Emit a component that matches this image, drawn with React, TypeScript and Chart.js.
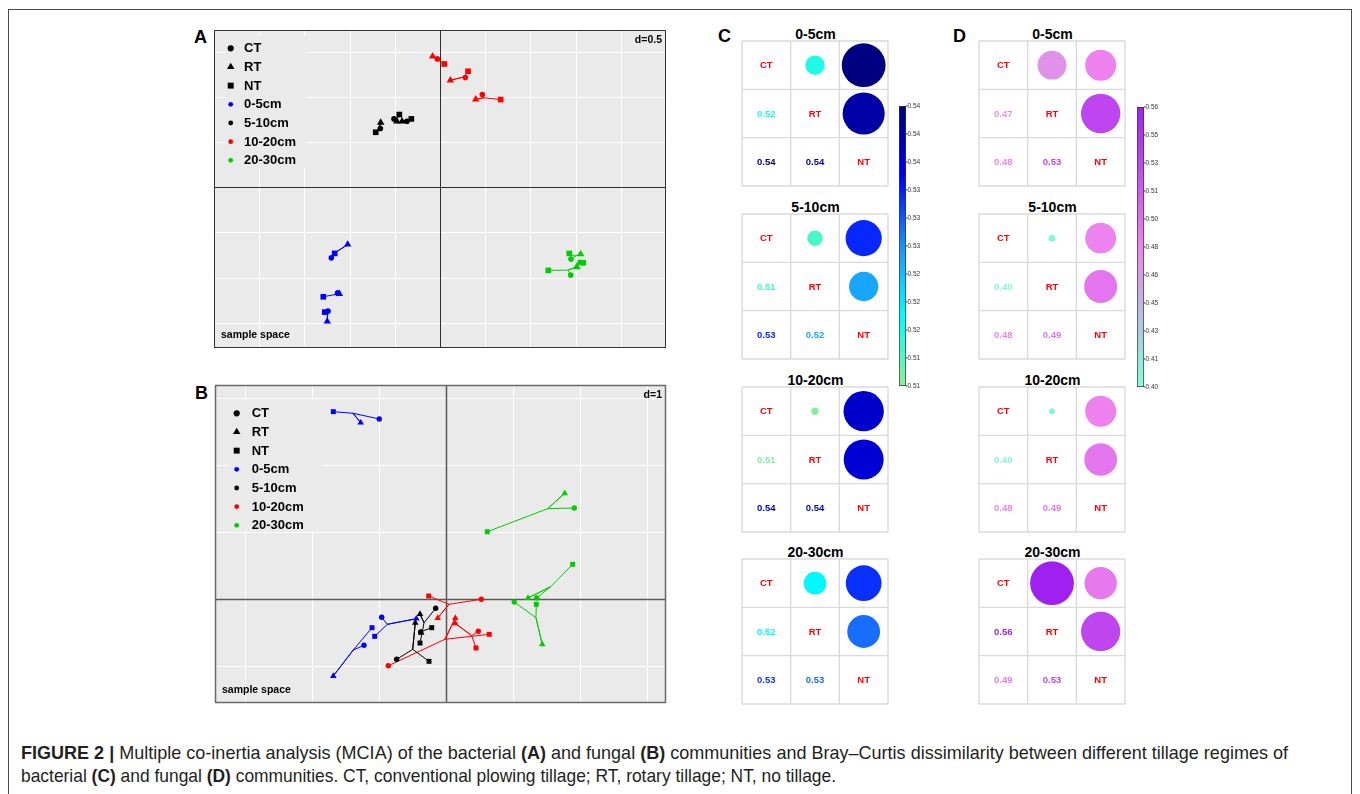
import React, { useEffect, useLayoutEffect, useRef } from 'react';
import { Chart, registerables } from 'chart.js';

Chart.register(...registerables);

const FONT = "'Liberation Sans', Arial, Helvetica, sans-serif";
const PANEL_BG = '#EAEAEA';

// ---------- categories ----------
const TREATMENTS = ['CT', 'RT', 'NT'];
const TREATMENT_SHAPES = ['circle', 'triangle', 'rect'];
const DEPTHS = ['0-5cm', '5-10cm', '10-20cm', '20-30cm'];
const DEPTH_COLORS = ['#0000FF', '#000000', '#FF0000', '#00CD00'];

// ---------- MCIA stars: [centerX, centerY, CTx, CTy, RTx, RTy, NTx, NTy] ----------
// Panel A (bacterial), d = 0.5
const A_0_5 = [
  [-1.150, -0.719, -1.202, -0.782, -1.021, -0.634, -1.165, -0.733],
  [-1.170, -1.190, -1.132, -1.169, -1.114, -1.180, -1.291, -1.213],
  [-1.247, -1.397, -1.239, -1.372, -1.247, -1.486, -1.275, -1.383],
];
const A_5_10 = [
  [-0.675, 0.653, -0.660, 0.649, -0.656, 0.716, -0.711, 0.608],
  [-0.476, 0.752, -0.509, 0.756, -0.476, 0.730, -0.450, 0.804],
  [-0.376, 0.741, -0.365, 0.730, -0.420, 0.730, -0.317, 0.756],
];
const A_10_20 = [
  [-0.022, 1.410, -0.030, 1.420, -0.081, 1.449, 0.048, 1.364],
  [0.265, 1.220, 0.280, 1.213, 0.114, 1.184, 0.310, 1.283],
  [0.487, 0.990, 0.468, 1.025, 0.395, 0.973, 0.671, 0.970],
];
const A_20_30 = [
  [1.493, -0.763, 1.449, -0.796, 1.556, -0.741, 1.430, -0.733],
  [1.538, -0.852, 1.549, -0.830, 1.515, -0.885, 1.585, -0.837],
  [1.416, -0.918, 1.446, -0.973, 1.512, -0.882, 1.198, -0.921],
];

// Panel B (fungal), d = 1
const B_0_5 = [
  [-1.388, 2.772, -0.996, 2.687, -1.273, 2.631, -1.682, 2.796],
  [-0.876, -0.378, -0.960, -0.273, -0.443, -0.294, -1.064, -0.557],
  [-1.384, -0.761, -1.224, -0.691, -1.682, -1.149, -1.104, -0.428],
];
const B_5_10 = [
  [-0.328, -0.354, -0.154, -0.139, -0.388, -0.224, -0.388, -0.657],
  [-0.355, -0.480, -0.378, -0.493, -0.370, -0.505, -0.213, -0.428],
  [-0.497, -0.751, -0.736, -0.900, -0.458, -0.354, -0.254, -0.930],
];
const B_10_20 = [
  [0.045, -0.079, 0.527, -0.004, -0.124, -0.284, -0.258, 0.045],
  [0.384, -0.548, 0.482, -0.482, 0.139, -0.363, 0.448, -0.731],
  [-0.015, -0.601, -0.861, -0.996, 0.139, -0.284, 0.646, -0.527],
];
const B_20_30 = [
  [1.518, 1.348, 1.915, 1.358, 1.772, 1.578, 0.616, 1.004],
  [1.563, 0.184, 1.354, 0.015, 1.224, 0.015, 1.891, 0.518],
  [1.343, -0.279, 1.019, -0.045, 1.437, -0.676, 1.348, -0.079],
];

// ---------- Bray-Curtis dissimilarity, per depth ----------
const C_CT_RT = [0.516, 0.5136, 0.5104, 0.5183];
const C_CT_NT = [0.5425, 0.532, 0.5375, 0.5315];
const C_RT_NT = [0.540, 0.5243, 0.537, 0.528];
const D_CT_RT = [0.471, 0.404, 0.403, 0.563];
const D_CT_NT = [0.482, 0.481, 0.482, 0.489];
const D_RT_NT = [0.532, 0.492, 0.491, 0.531];

// colour bar ranges and tick labels (top to bottom)
const C_RANGE = [0.5095, 0.5425];
const D_RANGE = [0.400, 0.563];
const C_BAR_LABELS = ['0.54', '0.54', '0.54', '0.53', '0.53', '0.53', '0.52', '0.52', '0.52', '0.51', '0.51'];
const D_BAR_LABELS = ['0.56', '0.55', '0.53', '0.51', '0.50', '0.48', '0.46', '0.45', '0.43', '0.41', '0.40'];
const C_STOPS: [number, string][] = [[0, '#90EE90'], [0.25, '#00FFFF'], [0.5, '#1E90FF'], [0.75, '#0000FF'], [1, '#000080']];
const D_STOPS: [number, string][] = [[0, '#7FFFD4'], [0.5, '#EE82EE'], [1, '#A020F0']];

// ---------- helpers ----------
function hexToRgb(h: string) {
  const n = parseInt(h.slice(1), 16);
  return [(n >> 16) & 255, (n >> 8) & 255, n & 255];
}
function colorAt(stops: [number, string][], t: number) {
  const tt = Math.max(0, Math.min(1, t));
  for (let i = 1; i < stops.length; i++) {
    if (tt <= stops[i][0]) {
      const [t0, c0] = stops[i - 1];
      const [t1, c1] = stops[i];
      const f = (tt - t0) / (t1 - t0);
      const a = hexToRgb(c0), b = hexToRgb(c1);
      return `rgb(${Math.round(a[0] + (b[0] - a[0]) * f)},${Math.round(a[1] + (b[1] - a[1]) * f)},${Math.round(a[2] + (b[2] - a[2]) * f)})`;
    }
  }
  return stops[stops.length - 1][1];
}

function drawShape(ctx: CanvasRenderingContext2D, shape: string, x: number, y: number, r: number) {
  ctx.beginPath();
  if (shape === 'circle') ctx.arc(x, y, r, 0, Math.PI * 2);
  else if (shape === 'triangle') {
    ctx.moveTo(x, y - r);
    ctx.lineTo(x + r * 0.866, y + r * 0.5);
    ctx.lineTo(x - r * 0.866, y + r * 0.5);
    ctx.closePath();
  } else {
    const s = r * Math.SQRT1_2;
    ctx.rect(x - s, y - s, 2 * s, 2 * s);
  }
  ctx.fill();
}

// ---------- scatter panels ----------
type PanelCfg = {
  stars: number[][][];
  xRange: [number, number];
  yRange: [number, number];
  step: number;
  crossColor: string;
  crossWidth: number;
  borderColor: string;
  borderWidth: number;
  radii: number[];
  legendBox: [number, number, number, number];
  symX: number;
  textX: number;
  rowY0: number;
  rowDy: number;
  dLabel: string;
};

function panelPlugin(cfg: PanelCfg) {
  return {
    id: 'panelDecor',
    beforeDatasetsDraw(chart: any) {
      const { ctx, chartArea: a } = chart;
      const xs = chart.scales.x, ys = chart.scales.y;
      ctx.save();
      ctx.fillStyle = PANEL_BG;
      ctx.fillRect(a.left, a.top, a.width, a.height);
      ctx.strokeStyle = '#FFFFFF';
      ctx.lineWidth = 1;
      ctx.beginPath();
      for (let k = Math.ceil(xs.min / cfg.step); k * cfg.step <= xs.max; k++) {
        if (k === 0) continue;
        const px = Math.round(xs.getPixelForValue(k * cfg.step)) + 0.5;
        ctx.moveTo(px, a.top);
        ctx.lineTo(px, a.bottom);
      }
      for (let k = Math.ceil(ys.min / cfg.step); k * cfg.step <= ys.max; k++) {
        if (k === 0) continue;
        const py = Math.round(ys.getPixelForValue(k * cfg.step)) + 0.5;
        ctx.moveTo(a.left, py);
        ctx.lineTo(a.right, py);
      }
      ctx.stroke();
      const [bx, by, bw, bh] = cfg.legendBox;
      ctx.fillStyle = PANEL_BG;
      ctx.fillRect(a.left + bx, a.top + by, bw, bh);
      ctx.strokeStyle = cfg.crossColor;
      ctx.lineWidth = cfg.crossWidth;
      const x0 = Math.round(xs.getPixelForValue(0)) + 0.5;
      const y0 = Math.round(ys.getPixelForValue(0)) + 0.5;
      ctx.beginPath();
      ctx.moveTo(x0, a.top);
      ctx.lineTo(x0, a.bottom);
      ctx.moveTo(a.left, y0);
      ctx.lineTo(a.right, y0);
      ctx.stroke();
      ctx.restore();
    },
    afterDatasetsDraw(chart: any) {
      const { ctx, chartArea: a } = chart;
      ctx.save();
      const entries = [
        ...TREATMENTS.map((t, i) => ({ label: t, shape: TREATMENT_SHAPES[i], color: '#000000', r: [3.1, 4.3, 4.2][i] })),
        ...DEPTHS.map((d, i) => ({ label: d, shape: 'circle', color: DEPTH_COLORS[i], r: 2.4 })),
      ];
      ctx.font = `bold 13px ${FONT}`;
      ctx.textBaseline = 'middle';
      ctx.textAlign = 'left';
      entries.forEach((e, i) => {
        const y = a.top + cfg.rowY0 + i * cfg.rowDy;
        ctx.fillStyle = e.color;
        drawShape(ctx, e.shape, a.left + cfg.symX, y, e.r);
        ctx.fillStyle = '#000000';
        ctx.fillText(e.label, a.left + cfg.textX, y + 0.5);
      });
      ctx.font = `bold 10.5px ${FONT}`;
      ctx.textAlign = 'right';
      ctx.fillText(cfg.dLabel, a.right - 4, a.top + 10);
      ctx.textAlign = 'left';
      ctx.fillText('sample space', a.left + 7, a.bottom - 13);
      ctx.strokeStyle = cfg.borderColor;
      ctx.lineWidth = cfg.borderWidth;
      ctx.strokeRect(a.left + 0.5, a.top + 0.5, a.width - 1, a.height - 1);
      ctx.restore();
    },
  };
}

function makeScatterConfig(cfg: PanelCfg) {
  const lineSets: any[] = [];
  const pointSets: any[] = [];
  cfg.stars.forEach((rows, d) => {
    rows.forEach((row) => {
      const c = { x: row[0], y: row[1] };
      const pts = TREATMENTS.map((_, k) => ({ x: row[2 + 2 * k], y: row[3 + 2 * k] }));
      lineSets.push({
        data: [pts[0], c, pts[1], c, pts[2]],
        showLine: true,
        borderColor: DEPTH_COLORS[d],
        borderWidth: 1,
        pointRadius: 0,
        order: 1,
      });
      pointSets.push({
        data: pts,
        showLine: false,
        pointStyle: TREATMENT_SHAPES,
        pointRadius: cfg.radii,
        backgroundColor: DEPTH_COLORS[d],
        borderWidth: 0,
        order: 0,
      });
    });
  });
  return {
    type: 'scatter',
    data: { datasets: [...pointSets, ...lineSets] },
    options: {
      responsive: false,
      animation: false,
      events: [],
      layout: { padding: 10, autoPadding: false },
      scales: {
        x: { type: 'linear', min: cfg.xRange[0], max: cfg.xRange[1], display: false },
        y: { type: 'linear', min: cfg.yRange[0], max: cfg.yRange[1], display: false },
      },
      plugins: { legend: { display: false }, tooltip: { enabled: false } },
    },
    plugins: [panelPlugin(cfg)],
  };
}

const PANEL_A: PanelCfg = {
  stars: [A_0_5, A_5_10, A_10_20, A_20_30],
  xRange: [-2.5, 2.5],
  yRange: [-1.78, 1.74],
  step: 0.5,
  crossColor: '#2E2E2E',
  crossWidth: 1,
  borderColor: '#333333',
  borderWidth: 1,
  radii: [2.8, 4.3, 4.0],
  legendBox: [12, 6, 80, 132],
  symX: 16.7,
  textX: 30,
  rowY0: 18.3,
  rowDy: 18.67,
  dLabel: 'd=0.5',
};

const PANEL_B: PanelCfg = {
  stars: [B_0_5, B_5_10, B_10_20, B_20_30],
  xRange: [-3.448, 3.284],
  yRange: [-1.552, 3.194],
  step: 1,
  crossColor: '#5A5A5A',
  crossWidth: 1.5,
  borderColor: '#6A6A6A',
  borderWidth: 1.5,
  radii: [2.7, 3.8, 3.5],
  legendBox: [13, 15, 94, 131],
  symX: 21.7,
  textX: 36.7,
  rowY0: 28.3,
  rowDy: 18.67,
  dLabel: 'd=1',
};

// ---------- matrices ----------
const CELL = 146 / 3;
const PAIRS = [[0, 1], [0, 2], [1, 2]];

function matrixPlugin(stops: [number, string][], range: number[], vals: number[]) {
  return {
    id: 'matrixDecor',
    beforeDatasetsDraw(chart: any) {
      const { ctx } = chart;
      const xs = chart.scales.x, ys = chart.scales.y;
      ctx.save();
      ctx.strokeStyle = '#DADADA';
      ctx.lineWidth = 1.4;
      ctx.beginPath();
      for (let i = 0; i <= 3; i++) {
        const px = xs.getPixelForValue(i);
        const py = ys.getPixelForValue(i);
        ctx.moveTo(px, ys.getPixelForValue(0));
        ctx.lineTo(px, ys.getPixelForValue(3));
        ctx.moveTo(xs.getPixelForValue(0), py);
        ctx.lineTo(xs.getPixelForValue(3), py);
      }
      ctx.stroke();
      ctx.font = `bold 9.5px ${FONT}`;
      ctx.textAlign = 'center';
      ctx.textBaseline = 'middle';
      TREATMENTS.forEach((t, i) => {
        ctx.fillStyle = '#FF0000';
        ctx.fillText(t, xs.getPixelForValue(i + 0.5), ys.getPixelForValue(i + 0.5) + 0.5);
      });
      PAIRS.forEach(([a, b], k) => {
        const v = vals[k];
        ctx.fillStyle = colorAt(stops, (v - range[0]) / (range[1] - range[0]));
        ctx.fillText(v.toFixed(2), xs.getPixelForValue(a + 0.5), ys.getPixelForValue(b + 0.5) + 1);
      });
      ctx.restore();
    },
  };
}

function makeMatrixConfig(stops: [number, string][], range: number[], vals: number[]) {
  const data = PAIRS.map(([a, b], k) => {
    const s = Math.max(0, (vals[k] - range[0]) / (range[1] - range[0]));
    return { x: b + 0.5, y: a + 0.5, r: 0.45 * CELL * Math.sqrt(s), v: vals[k] };
  });
  return {
    type: 'bubble',
    data: {
      datasets: [
        {
          data,
          backgroundColor: (c: any) =>
            c.raw ? colorAt(stops, (c.raw.v - range[0]) / (range[1] - range[0])) : '#000',
          borderWidth: 0,
        },
      ],
    },
    options: {
      responsive: false,
      animation: false,
      events: [],
      layout: { padding: 2, autoPadding: false },
      scales: {
        x: { type: 'linear', min: 0, max: 3, display: false },
        y: { type: 'linear', min: 0, max: 3, reverse: true, display: false },
      },
      plugins: { legend: { display: false }, tooltip: { enabled: false } },
    },
    plugins: [matrixPlugin(stops, range, vals)],
  };
}

// ---------- colour bars ----------
function colorbarPlugin(labels: string[], range: number[]) {
  return {
    id: 'cbTicks',
    afterDatasetsDraw(chart: any) {
      const { ctx, chartArea: a } = chart;
      const ys = chart.scales.y;
      ctx.save();
      ctx.font = `6.5px ${FONT}`;
      ctx.fillStyle = '#333333';
      ctx.strokeStyle = '#333333';
      ctx.lineWidth = 1;
      ctx.textAlign = 'left';
      ctx.textBaseline = 'middle';
      labels.forEach((lab, k) => {
        const v = range[1] - (k * (range[1] - range[0])) / (labels.length - 1);
        const py = ys.getPixelForValue(v);
        ctx.beginPath();
        ctx.moveTo(a.right, py);
        ctx.lineTo(a.right + 1.5, py);
        ctx.stroke();
        ctx.fillText(lab, a.right + 1.5, py + 0.5);
      });
      ctx.restore();
    },
  };
}

function makeColorbarConfig(stops: [number, string][], range: number[], labels: string[]) {
  return {
    type: 'bar',
    data: {
      labels: [''],
      datasets: [
        {
          data: [[range[0], range[1]]],
          backgroundColor: (c: any) => {
            const area = c.chart.chartArea;
            if (!area) return stops[0][1];
            const g = c.chart.ctx.createLinearGradient(0, area.bottom, 0, area.top);
            stops.forEach(([t, col]) => g.addColorStop(t, col));
            return g;
          },
          borderColor: '#333333',
          borderWidth: 1,
          borderSkipped: false,
          barPercentage: 1,
          categoryPercentage: 1,
        },
      ],
    },
    options: {
      responsive: false,
      animation: false,
      events: [],
      layout: { padding: { left: 9, right: 34, top: 8, bottom: 8 }, autoPadding: false },
      scales: {
        x: { display: false },
        y: { type: 'linear', min: range[0], max: range[1], display: false },
      },
      plugins: { legend: { display: false }, tooltip: { enabled: false } },
    },
    plugins: [colorbarPlugin(labels, range)],
  };
}

// ---------- components ----------
function ChartCanvas({ left, top, width, height, make }: any) {
  const ref = useRef<HTMLCanvasElement>(null);
  useEffect(() => {
    const chart = new Chart(ref.current as HTMLCanvasElement, make());
    return () => chart.destroy();
  }, []);
  return (
    <canvas
      ref={ref}
      width={width}
      height={height}
      style={{ position: 'absolute', left, top, width, height, display: 'block' }}
    />
  );
}

function Txt({ x, y, size, bold = true, align = 'left', color = '#000', children }: any) {
  const tx = align === 'center' ? 'translateX(-50%)' : align === 'right' ? 'translateX(-100%)' : 'none';
  return (
    <div
      style={{
        position: 'absolute',
        left: x,
        top: y - size * 0.488,
        fontFamily: FONT,
        fontSize: size,
        lineHeight: `${size}px`,
        fontWeight: bold ? 700 : 400,
        color,
        whiteSpace: 'nowrap',
        transform: tx,
      }}
    >
      {children}
    </div>
  );
}

// target widths of the two caption lines (condensed typeface)
const CAPTION_WIDTHS = [1267, 815];

function Caption() {
  const l1 = useRef<HTMLSpanElement>(null);
  const l2 = useRef<HTMLSpanElement>(null);
  useLayoutEffect(() => {
    [l1.current, l2.current].forEach((el, i) => {
      if (!el) return;
      el.style.transform = 'none';
      const w = el.getBoundingClientRect().width;
      if (w > 0) el.style.transform = `scaleX(${CAPTION_WIDTHS[i] / w})`;
    });
  }, []);
  const lineStyle: React.CSSProperties = { display: 'inline-block', transformOrigin: '0 0' };
  return (
    <div
      style={{
        position: 'absolute',
        left: 21,
        top: 741,
        fontFamily: FONT,
        fontSize: 19,
        lineHeight: '23px',
        color: '#231F20',
        whiteSpace: 'nowrap',
      }}
    >
      <span ref={l1} style={lineStyle}>
        <b>FIGURE 2 |</b> Multiple co-inertia analysis (MCIA) of the bacterial <b>(A)</b> and fungal <b>(B)</b> communities
        and Bray–Curtis dissimilarity between different tillage regimes of
      </span>
      <br />
      <span ref={l2} style={lineStyle}>
        bacterial <b>(C)</b> and fungal <b>(D)</b> communities. CT, conventional plowing tillage; RT, rotary tillage; NT, no
        tillage.
      </span>
    </div>
  );
}

const MATRIX_TOPS = [41, 214, 387, 559];

export default function App() {
  return (
    <div
      style={{
        position: 'fixed',
        left: 0,
        top: 0,
        width: 1360,
        height: 794,
        overflow: 'hidden',
        background: '#FFFFFF',
      }}
    >
      <div
        style={{
          position: 'absolute',
          left: 8,
          top: 9,
          width: 1344,
          height: 800,
          border: '1px solid #4A4A4A',
          boxSizing: 'border-box',
        }}
      />
      <Txt x={194} y={36.5} size={18}>A</Txt>
      <Txt x={195} y={393} size={18}>B</Txt>
      <Txt x={718} y={36} size={18}>C</Txt>
      <Txt x={953} y={36} size={18}>D</Txt>

      <ChartCanvas left={204} top={20} width={472} height={338} make={() => makeScatterConfig(PANEL_A)} />
      <ChartCanvas left={205} top={375} width={471} height={338} make={() => makeScatterConfig(PANEL_B)} />

      {DEPTHS.map((d, i) => (
        <React.Fragment key={d}>
          <Txt x={815.5} y={MATRIX_TOPS[i] - 7.5} size={14} align="center">{d}</Txt>
          <Txt x={1052.5} y={MATRIX_TOPS[i] - 7.5} size={14} align="center">{d}</Txt>
          <ChartCanvas
            left={740}
            top={MATRIX_TOPS[i] - 2}
            width={150}
            height={149}
            make={() => makeMatrixConfig(C_STOPS, C_RANGE, [C_CT_RT[i], C_CT_NT[i], C_RT_NT[i]])}
          />
          <ChartCanvas
            left={977}
            top={MATRIX_TOPS[i] - 2}
            width={150}
            height={149}
            make={() => makeMatrixConfig(D_STOPS, D_RANGE, [D_CT_RT[i], D_CT_NT[i], D_RT_NT[i]])}
          />
        </React.Fragment>
      ))}

      <ChartCanvas left={890} top={98} width={50} height={296} make={() => makeColorbarConfig(C_STOPS, C_RANGE, C_BAR_LABELS)} />
      <ChartCanvas left={1128} top={99} width={50} height={296} make={() => makeColorbarConfig(D_STOPS, D_RANGE, D_BAR_LABELS)} />

      <Caption />
    </div>
  );
}
